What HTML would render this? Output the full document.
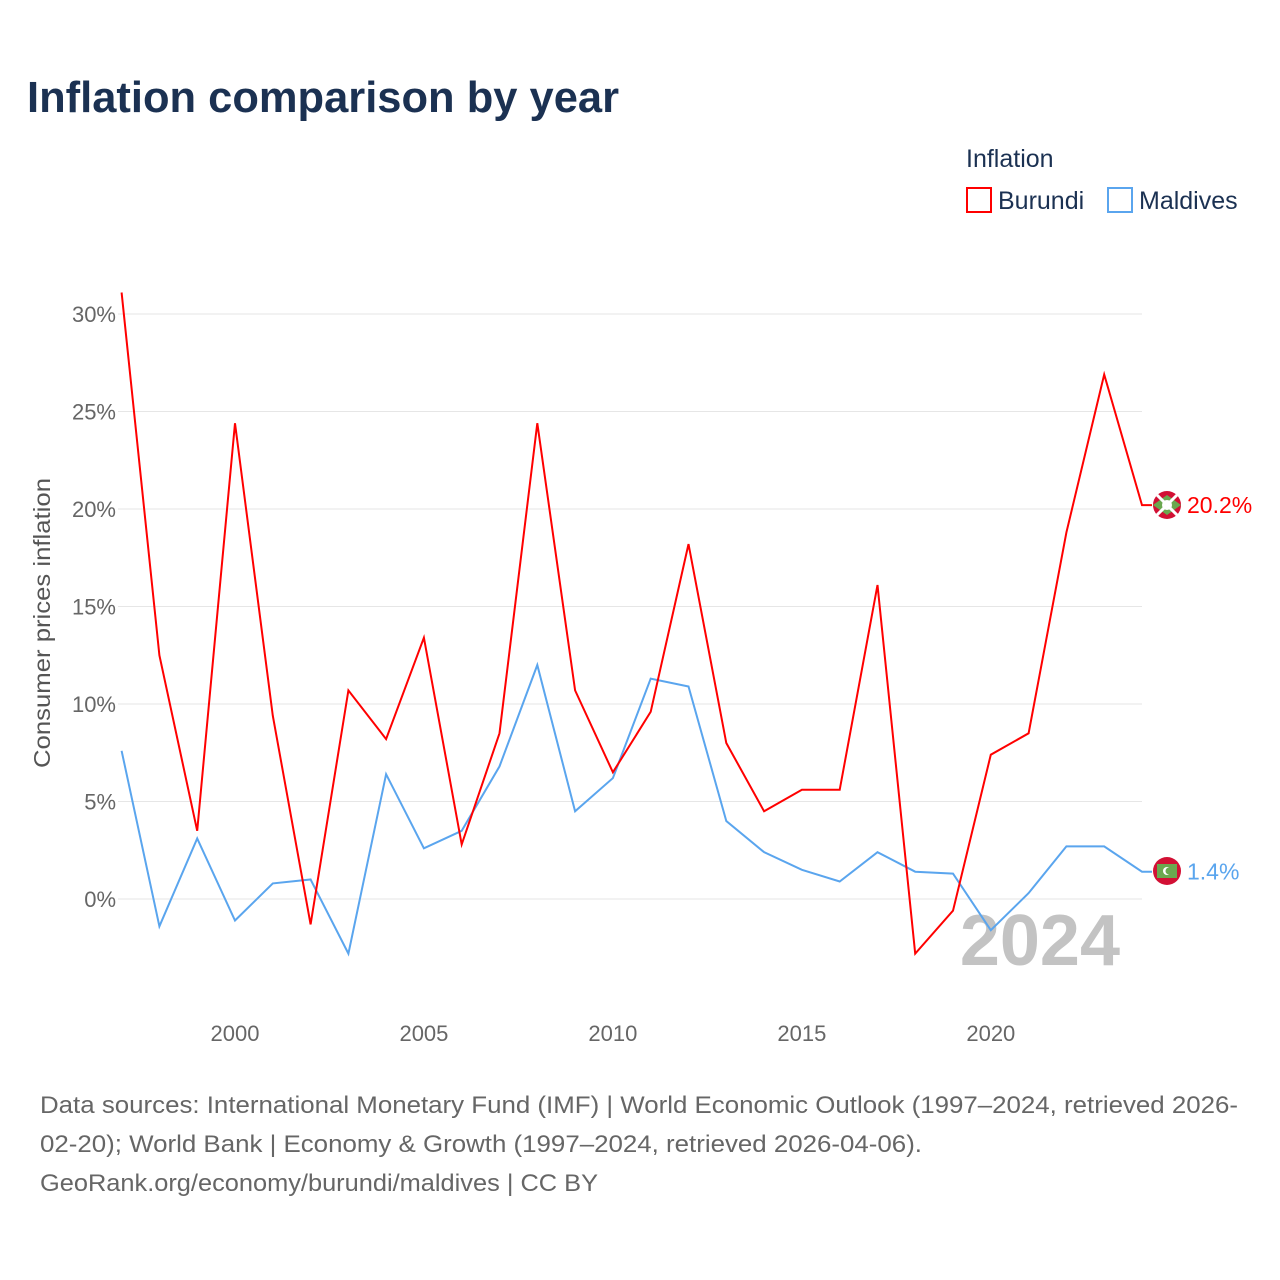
<!DOCTYPE html>
<html><head><meta charset="utf-8"><style>
body{margin:0;background:#fff;font-family:"Liberation Sans",sans-serif;}
#wrap{position:relative;width:1280px;height:1280px;overflow:hidden;}
</style></head><body>
<div id="wrap">
<svg id="chart" width="1280" height="1280">
<text x="27" y="112" font-size="44" font-weight="bold" fill="#1b3152" textLength="592" lengthAdjust="spacingAndGlyphs">Inflation comparison by year</text>
<text x="966" y="167" font-size="25" fill="#1b3152">Inflation</text>
<g><rect x="967" y="188" width="24" height="24" fill="none" stroke="#f00" stroke-width="2"/><text x="998" y="209" font-size="25" fill="#1b3152">Burundi</text></g>
<g><rect x="1108" y="188" width="24" height="24" fill="none" stroke="#5aa5ee" stroke-width="2"/><text x="1139" y="209" font-size="25" fill="#1b3152">Maldives</text></g>
<g id="grid"></g><g id="yt"></g><g id="xt"></g>
<text x="1120" y="965" font-size="72" font-weight="bold" fill="#c3c3c3" text-anchor="end">2024</text>
<text transform="translate(50,623) rotate(-90)" font-size="23" fill="#555" text-anchor="middle" textLength="290" lengthAdjust="spacingAndGlyphs">Consumer prices inflation</text>
<g id="series"></g>
<g><circle cx="1167" cy="505" r="14" fill="#d21034"/><path d="M1153,505 L1167,495 1181,505 1167,515Z" fill="#6aa84f"/><path d="M1157,495 L1177,515 M1177,495 L1157,515" stroke="#fff" stroke-width="3"/><circle cx="1167" cy="505" r="5" fill="#fff"/></g>
<g><circle cx="1167" cy="871" r="14" fill="#d21034"/><rect x="1157" y="864" width="20" height="14" fill="#6aa84f"/><circle cx="1167" cy="871" r="4" fill="#fff"/><circle cx="1169" cy="871" r="3.5" fill="#6aa84f"/></g>
<text x="40" y="1113" font-size="24" fill="#666" textLength="1198" lengthAdjust="spacingAndGlyphs">Data sources: International Monetary Fund (IMF) | World Economic Outlook (1997–2024, retrieved 2026-</text>
<text x="40" y="1152" font-size="24" fill="#666" textLength="882" lengthAdjust="spacingAndGlyphs">02-20); World Bank | Economy &amp; Growth (1997–2024, retrieved 2026-04-06).</text>
<text x="40" y="1191" font-size="24" fill="#666" textLength="558" lengthAdjust="spacingAndGlyphs">GeoRank.org/economy/burundi/maldives | CC BY</text>
</svg></div>
<script>
const years=[1997,1998,1999,2000,2001,2002,2003,2004,2005,2006,2007,2008,2009,2010,2011,2012,2013,2014,2015,2016,2017,2018,2019,2020,2021,2022,2023,2024];
const burundi=[31.1,12.5,3.5,24.4,9.4,-1.3,10.7,8.2,13.4,2.8,8.5,24.4,10.7,6.5,9.6,18.2,8.0,4.5,5.6,5.6,16.1,-2.8,-0.6,7.4,8.5,18.8,26.9,20.2];
const maldives=[7.6,-1.4,3.1,-1.1,0.8,1.0,-2.8,6.4,2.6,3.5,6.8,12.0,4.5,6.2,11.3,10.9,4.0,2.4,1.5,0.9,2.4,1.4,1.3,-1.6,0.3,2.7,2.7,1.4];
const yTicks=[0,5,10,15,20,25,30];
const xTicks=[2000,2005,2010,2015,2020];
const NS="http://www.w3.org/2000/svg";
const xs=y=>121.6+(y-1997)*(1142-121.6)/27;
const ys=v=>899-v*19.5;
function mk(t,a,p){const e=document.createElementNS(NS,t);for(const k in a)e.setAttribute(k,a[k]);p.appendChild(e);return e;}
const g=document.getElementById('grid'),yt=document.getElementById('yt'),xt=document.getElementById('xt'),s=document.getElementById('series');
yTicks.forEach(v=>{
 const l=mk('line',{x1:118,x2:1142,y1:ys(v),y2:ys(v),stroke:'#e6e6e6','stroke-width':1},g);
 
 
 const t=mk('text',{x:116,y:ys(v)+8,'font-size':22,fill:'#666','text-anchor':'end'},yt);t.textContent=v+'%';
 
 
});
xTicks.forEach(v=>{
 const t=mk('text',{x:xs(v),y:1041,'font-size':22,fill:'#666','text-anchor':'middle'},xt);t.textContent=v;
 
 
});
function line(data,col,name){
 const pts=data.map((v,i)=>xs(years[i]).toFixed(1)+','+ys(v).toFixed(1));
 const last=ys(data[data.length-1]);
 pts.push('1152,'+last.toFixed(1));
 const p=mk('polyline',{points:pts.join(' '),fill:'none',stroke:col,'stroke-width':2},s);
 
 
 const t=mk('text',{x:1187,y:last+8,'font-size':23,fill:col},s);t.textContent=data[data.length-1].toFixed(1)+'%';
 
 
}
line(maldives,'#5aa5ee','maldives');
line(burundi,'#f00','burundi');
</script>
</body></html>
